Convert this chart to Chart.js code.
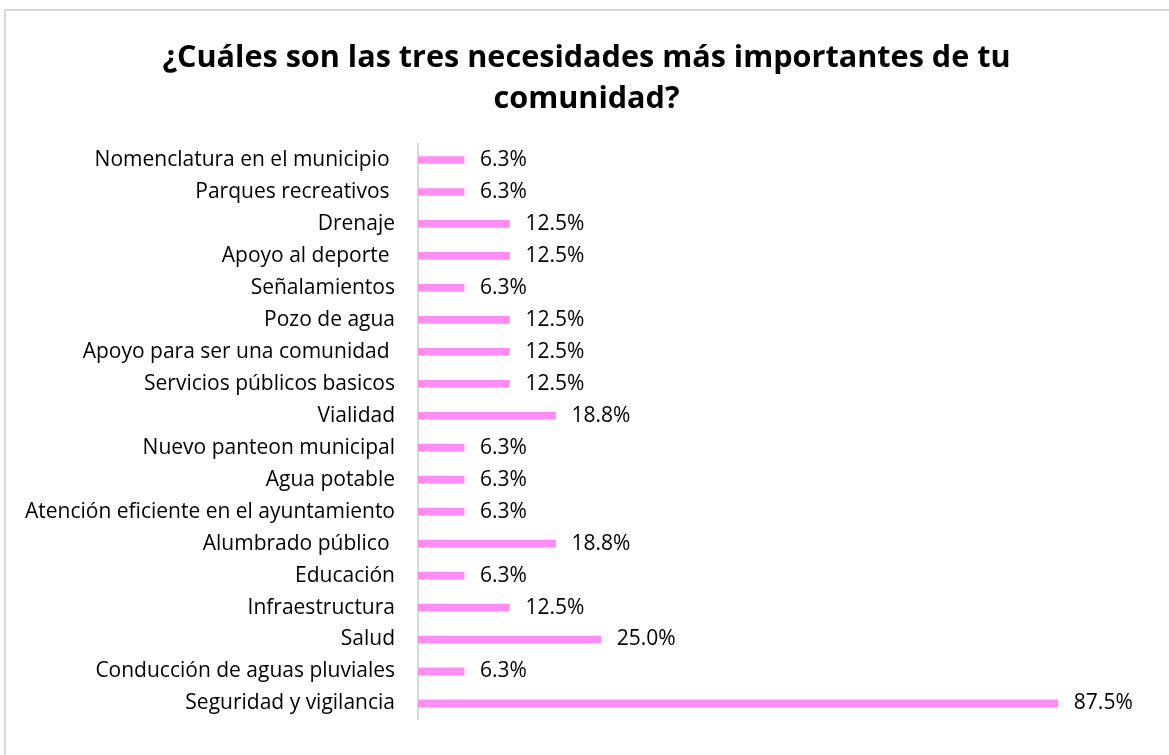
<!DOCTYPE html>
<html lang="es">
<head>
<meta charset="utf-8">
<title>Necesidades de la comunidad</title>
<script src="https://cdn.jsdelivr.net/npm/chart.js@4/dist/chart.umd.min.js"></script>
<style>
  html, body { margin: 0; padding: 0; background: #fff; overflow: hidden; }
  #wrap { position: relative; width: 1169px; height: 755px; }
  #frame {
    position: absolute; left: 4px; top: 9px; right: -10px; bottom: -10px;
    border: 2px solid #d9d9d9; pointer-events: none;
  }
</style>
</head>
<body>
<div id="wrap">
  <canvas id="chart" width="1169" height="755"></canvas>
  <div id="frame"></div>
</div>
<script>
const titleLines = ['¿Cuáles son las tres necesidades más importantes de tu', 'comunidad?'];

const categories = [
  'Nomenclatura en el municipio ',
  'Parques recreativos ',
  'Drenaje',
  'Apoyo al deporte ',
  'Señalamientos',
  'Pozo de agua',
  'Apoyo para ser una comunidad ',
  'Servicios públicos basicos',
  'Vialidad',
  'Nuevo panteon municipal',
  'Agua potable',
  'Atención eficiente en el ayuntamiento',
  'Alumbrado público ',
  'Educación',
  'Infraestructura',
  'Salud',
  'Conducción de aguas pluviales',
  'Seguridad y vigilancia'
];

const percentages = [6.3, 6.3, 12.5, 12.5, 6.3, 12.5, 12.5, 12.5, 18.8, 6.3, 6.3, 6.3, 18.8, 6.3, 12.5, 25.0, 6.3, 87.5];

const FONT = '"Open Sans", "Noto Sans", sans-serif';

// value labels at the end of each bar
const barLabels = {
  id: 'barLabels',
  afterDatasetsDraw(chart) {
    const { ctx } = chart;
    const meta = chart.getDatasetMeta(0);
    ctx.save();
    ctx.font = '21px ' + FONT;
    ctx.fillStyle = '#000';
    ctx.textAlign = 'left';
    ctx.textBaseline = 'middle';
    meta.data.forEach((bar, i) => {
      ctx.fillText(percentages[i].toFixed(1) + '%', bar.x + 16, bar.y);
    });
    ctx.restore();
  }
};

new Chart(document.getElementById('chart'), {
  type: 'bar',
  data: {
    labels: categories,
    datasets: [{
      data: percentages,
      backgroundColor: '#ff8cf4',
      borderWidth: 0,
      barThickness: 7
    }]
  },
  options: {
    indexAxis: 'y',
    responsive: false,
    animation: false,
    layout: { padding: { left: 4, right: 0, top: 0, bottom: 30 } },
    plugins: {
      legend: { display: false },
      tooltip: { enabled: false },
      title: {
        display: true,
        text: titleLines,
        color: '#000',
        font: { family: FONT, size: 30.6, weight: 'bold', lineHeight: 1.34 },
        padding: { top: 38, bottom: 24 }
      }
    },
    scales: {
      x: {
        display: false,
        min: 0,
        max: 102.7
      },
      y: {
        afterFit(scale) { scale.width = 414; },
        grid: { display: false, drawTicks: false },
        border: { display: true, color: '#d9d9d9', width: 2 },
        ticks: {
          padding: 23,
          color: '#000',
          font: { family: FONT, size: 21 }
        }
      }
    }
  },
  plugins: [barLabels]
});
</script>
</body>
</html>
